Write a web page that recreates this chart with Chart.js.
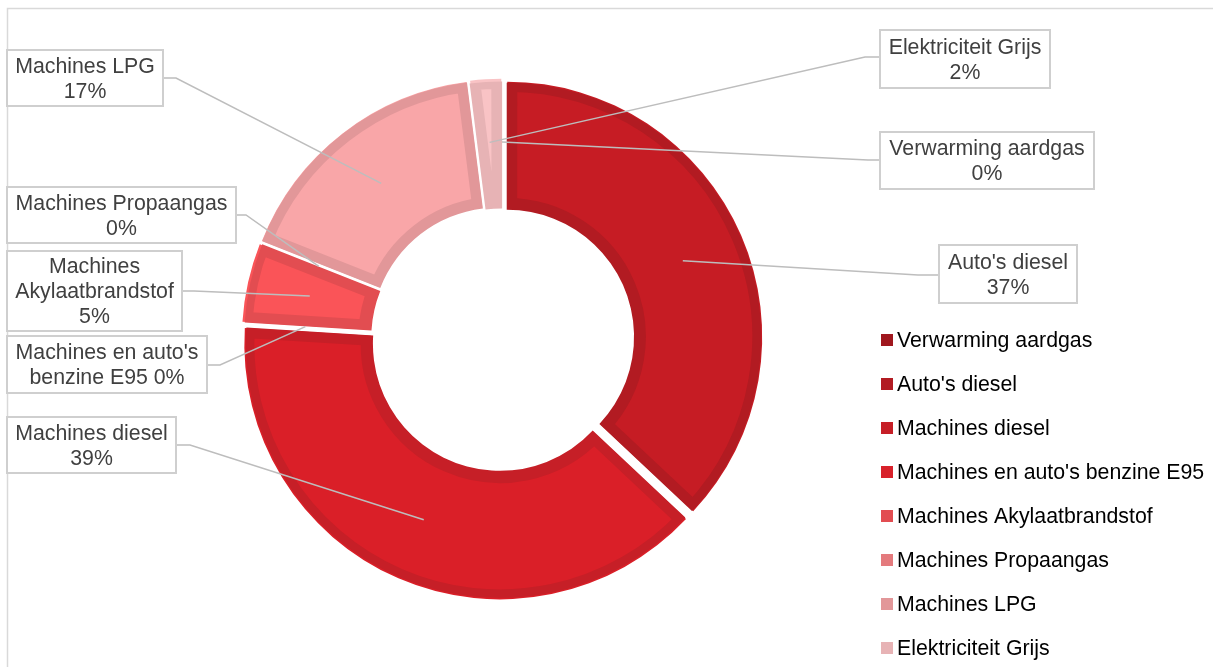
<!DOCTYPE html>
<html>
<head>
<meta charset="utf-8">
<script src="https://cdn.jsdelivr.net/npm/chart.js@4/dist/chart.umd.min.js"></script>
<style>
html,body{margin:0;padding:0;background:#fff;}
#wrap{width:1213px;height:667px;position:relative;}
</style>
</head>
<body>
<div id="wrap"><canvas id="c" width="1213" height="667"></canvas></div>
<script>
// ---- data ----
const categories = ["Verwarming aardgas", "Auto's diesel", "Machines diesel", "Machines en auto's benzine E95", "Machines Akylaatbrandstof", "Machines Propaangas", "Machines LPG", "Elektriciteit Grijs"];
const shares = [0, 37, 39, 0, 5, 0, 17, 2];

// ---- styles ----
const fillColors = ['#b3161e', '#c61c24', '#da1f28', '#e6232d', '#fa5458', '#f08a8d', '#f9a6a8', '#f9c3c5'];
const edgeColors = ['#a0171e', '#b21b22', '#c61f27', '#d8212b', '#e24d51', '#e47a7d', '#e29799', '#e7b3b5'];
const sliceOffsets = [26, 22, 21, 26, 15.4, 26, 23, 14];

// callout layout (box rect, connection point on box edge, elbow x, line breaks)
const calloutLayout = [
  {x: 880, y: 132, w: 214, h: 57, ax: 880, ay: 160, ex: 868, split: null},
  {x: 939, y: 245, w: 138, h: 58, ax: 939, ay: 275, ex: 918, split: null},
  {x: 7,   y: 417, w: 169, h: 56, ax: 176, ay: 445, ex: 190, split: null},
  {x: 7,   y: 336, w: 200, h: 57, ax: 207, ay: 365, ex: 220, split: ["Machines en auto's", "benzine E95"], inline: true},
  {x: 7,   y: 251, w: 175, h: 80, ax: 182, ay: 291, ex: 194, split: ["Machines", "Akylaatbrandstof"]},
  {x: 7,   y: 187, w: 229, h: 56, ax: 236, ay: 215, ex: 246, split: null},
  {x: 7,   y: 50,  w: 156, h: 56, ax: 163, ay: 78,  ex: 176, split: null},
  {x: 880, y: 30,  w: 170, h: 58, ax: 880, ay: 57,  ex: 865, split: null}
];

const FONT = '21.3px "Liberation Sans", Arial, sans-serif';

const framePlugin = {
  id: 'frame',
  beforeDraw(chart) {
    const ctx = chart.ctx;
    ctx.save();
    ctx.strokeStyle = '#d9d9d9';
    ctx.lineWidth = 1.5;
    ctx.beginPath();
    ctx.moveTo(7.5, 700);
    ctx.lineTo(7.5, 8.5);
    ctx.lineTo(1300, 8.5);
    ctx.stroke();
    ctx.restore();
  }
};

const calloutPlugin = {
  id: 'callouts',
  afterDatasetsDraw(chart) {
    const ctx = chart.ctx;
    const meta = chart.getDatasetMeta(0);
    const total = shares.reduce((a, b) => a + b, 0);
    ctx.save();
    // leader lines
    meta.data.forEach((arc, i) => {
      const L = calloutLayout[i];
      const p = arc.getProps(['x', 'y', 'startAngle', 'endAngle', 'innerRadius', 'outerRadius'], true);
      const mid = (p.startAngle + p.endAngle) / 2;
      const r = (p.innerRadius + p.outerRadius) / 2 + 6.5;
      const sx = p.x + Math.cos(mid) * r;
      const sy = p.y + Math.sin(mid) * r;
      ctx.strokeStyle = '#bdbdbd';
      ctx.lineWidth = 1.5;
      ctx.beginPath();
      ctx.moveTo(sx, sy);
      ctx.lineTo(L.ex, L.ay);
      ctx.lineTo(L.ax, L.ay);
      ctx.stroke();
    });
    // boxes and text
    ctx.font = FONT;
    ctx.textAlign = 'center';
    ctx.textBaseline = 'middle';
    categories.forEach((name, i) => {
      const L = calloutLayout[i];
      const pct = Math.round(shares[i] / total * 100) + '%';
      let lines;
      if (L.split) {
        lines = L.split.slice();
        if (L.inline) lines[lines.length - 1] += ' ' + pct; else lines.push(pct);
      } else {
        lines = [name, pct];
      }
      ctx.fillStyle = '#ffffff';
      ctx.fillRect(L.x, L.y, L.w, L.h);
      ctx.strokeStyle = '#cfcfcf';
      ctx.lineWidth = 2;
      ctx.strokeRect(L.x, L.y, L.w, L.h);
      ctx.fillStyle = '#404040';
      const cx = L.x + L.w / 2;
      const cy = L.y + L.h / 2 + 1.5;
      const lh = 25;
      lines.forEach((t, k) => {
        ctx.fillText(t, cx, cy + (k - (lines.length - 1) / 2) * lh);
      });
    });
    // legend
    ctx.textAlign = 'left';
    categories.forEach((name, i) => {
      const y = 340 + i * 44;
      ctx.fillStyle = edgeColors[i];
      ctx.fillRect(881, y - 6, 12, 12);
      ctx.fillStyle = '#000000';
      ctx.fillText(name, 897, y + 1);
    });
    ctx.restore();
  }
};

new Chart(document.getElementById('c'), {
  type: 'doughnut',
  data: {
    labels: categories,
    datasets: [{
      data: shares,
      backgroundColor: fillColors,
      borderColor: edgeColors,
      borderWidth: 10,
      borderAlign: 'inner',
      offset: sliceOffsets,
      hoverOffset: 0
    }]
  },
  options: {
    responsive: false,
    devicePixelRatio: 1,
    animation: false,
    events: [],
    radius: 254,
    cutout: '50%',
    layout: {padding: {left: 0, right: 209, top: 11, bottom: 0}},
    plugins: {legend: {display: false}, tooltip: {enabled: false}}
  },
  plugins: [framePlugin, calloutPlugin]
});
</script>
</body>
</html>
